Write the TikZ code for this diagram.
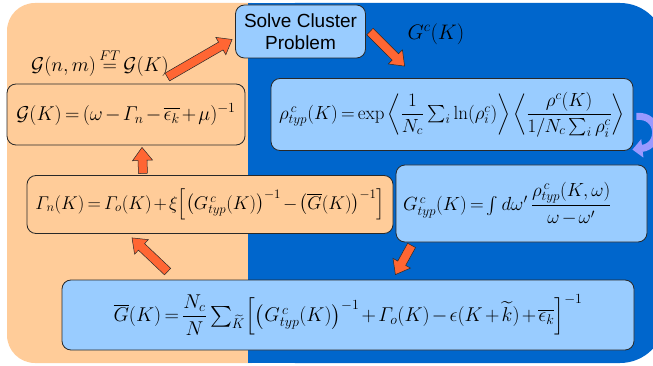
\RequirePackage{fix-cm}
\documentclass[tikz,border=0pt]{standalone}
\usepackage{amsmath}
\usepackage[no-math]{fontspec}
\setsansfont{Liberation Sans}
\usetikzlibrary{arrows.meta, calc, positioning}
\definecolor{peach}{RGB}{255, 204, 153}
\definecolor{deepblue}{RGB}{0, 102, 204}
\definecolor{boxblue}{RGB}{153, 204, 255}
\definecolor{arroworange}{RGB}{255, 102, 51}
\definecolor{loopviolet}{RGB}{153, 153, 255}
\definecolor{edgegray}{RGB}{40, 40, 40}

\begin{document}
\begin{tikzpicture}[
    x=1pt, y=-1pt,
    eqsize/.style={font={\fontsize{#1}{#1}\selectfont\medmuskip=2mu\relax\thickmuskip=3mu\relax}},
    every node/.style={eqsize=19},
    bluebox/.style={rectangle, rounded corners=9pt, draw=edgegray, line width=0.8pt, fill=boxblue, inner sep=0pt},
    peachbox/.style={bluebox, fill=peach},
    blockarrow/.style={fill=arroworange, draw=edgegray, line width=0.5pt,
        to path={let \p1=(\tikztostart), \p2=(\tikztotarget),
            \n1={atan2(\y2-\y1,\x2-\x1)}, \n2={veclen(\x2-\x1,\y2-\y1)-13pt} in
            ($(\p1)+(\n1+90:4.5pt)$) -- ($(\p1)+(\n1:\n2)+(\n1+90:4.5pt)$)
            -- ($(\p1)+(\n1:\n2)+(\n1+90:10pt)$) -- (\p2)
            -- ($(\p1)+(\n1:\n2)+(\n1-90:10pt)$) -- ($(\p1)+(\n1:\n2)+(\n1-90:4.5pt)$)
            -- ($(\p1)+(\n1-90:4.5pt)$) -- cycle}}
]

\useasboundingbox (0,0) rectangle (653,366);
\clip (0,0) rectangle (653,366);
\fill[white] (0,0) rectangle (653,366);

% Hintergrund: links orange, rechts blau
\fill[peach, rounded corners=28pt] (7,3) rectangle (280,363);
\fill[deepblue] (248,3) rectangle (300,363);
\fill[deepblue, rounded corners=45pt] (250,3) rectangle (665,363);

% Cluster-Loeser
\node[bluebox, minimum width=130, minimum height=53, align=center,
      font=\sffamily\fontsize{19}{22}\selectfont] (solve) at (300.5,31.5) {Solve Cluster\\Problem};
\node[eqsize=20] (fourier) at (100,63) {$\mathcal{G}(n,m)\overset{FT}{=}\mathcal{G}(K)$};
\node[eqsize=21] (gck) at (436,34) {$G^{c}(K)$};

% Gleichungen links
\node[peachbox, eqsize=20, minimum width=238, minimum height=61] (gk) at (126,114.5)
    {$\mathcal{G}(K)=(\omega-\varGamma_n-\overline{\epsilon_k}+\mu)^{-1}$};
\node[peachbox, eqsize=18.5, minimum width=366, minimum height=58] (gamma) at (210,204.5)
    {$\varGamma_n(K)=\varGamma_o(K)+\xi\Bigl[\bigl(G^{\,c}_{typ}(K)\bigr)^{-1}-\bigl(\overline{G}(K)\bigr)^{-1}\Bigr]$};

% Gleichungen rechts
\node[bluebox, minimum width=362, minimum height=72] (rho) at (452,114.5)
    {$\rho^{\,c}_{typ}(K)=\exp\left\langle\dfrac{1}{N_c}\sum\nolimits_i\ln(\rho_i^c)\right\rangle\left\langle\dfrac{\rho^c(K)}{1/N_c\sum\nolimits_i\rho_i^c}\right\rangle$};
\node[bluebox, inner xsep=7pt, text width=237, align=left, minimum height=77] (gtyp) at (521.5,203.5)
    {$G^{\,c}_{typ}(K)=\int d\omega'\,\dfrac{\rho^{\,c}_{typ}(K,\omega)}{\omega-\omega'}$};
\node[bluebox, eqsize=20, minimum width=572, minimum height=70] (gbar) at (348,315)
    {$\overline{G}(K)=\dfrac{N_c}{N}\sum\nolimits_{\widetilde{K}}\Bigl[\bigl(G^{\,c}_{typ}(K)\bigr)^{-1}+\varGamma_o(K)-\epsilon(K+\widetilde{k})+\overline{\epsilon_k}\Bigr]^{-1}$};

% Pfeile
\draw[blockarrow] ($(fourier.east)+(-5,14)$) to ($(solve.west)+(-3,8)$);
\draw[blockarrow] ($(solve.east)+(4,0)$) to ($(rho.north west)+(134,-12)$);
\draw[blockarrow] ($(gk.south)+(17,28)$) to ($(gk.south)+(16,2)$);
\draw[blockarrow] ($(gbar.north west)+(106,-8)$) to ($(gamma.south)+(-78,4)$);
\draw[blockarrow] ($(gtyp.south west)+(16,3)$) to ($(gbar.north east)+(-239,-5)$);

% Schleife rechts
\draw[loopviolet, line width=7pt, -{Triangle[length=10pt, width=18pt]}]
    ($(rho.east)+(3,2)$) .. controls (660,114) and (662,146) .. ($(gtyp.north east)+(-15,-15)$);

\end{tikzpicture}
\end{document}
